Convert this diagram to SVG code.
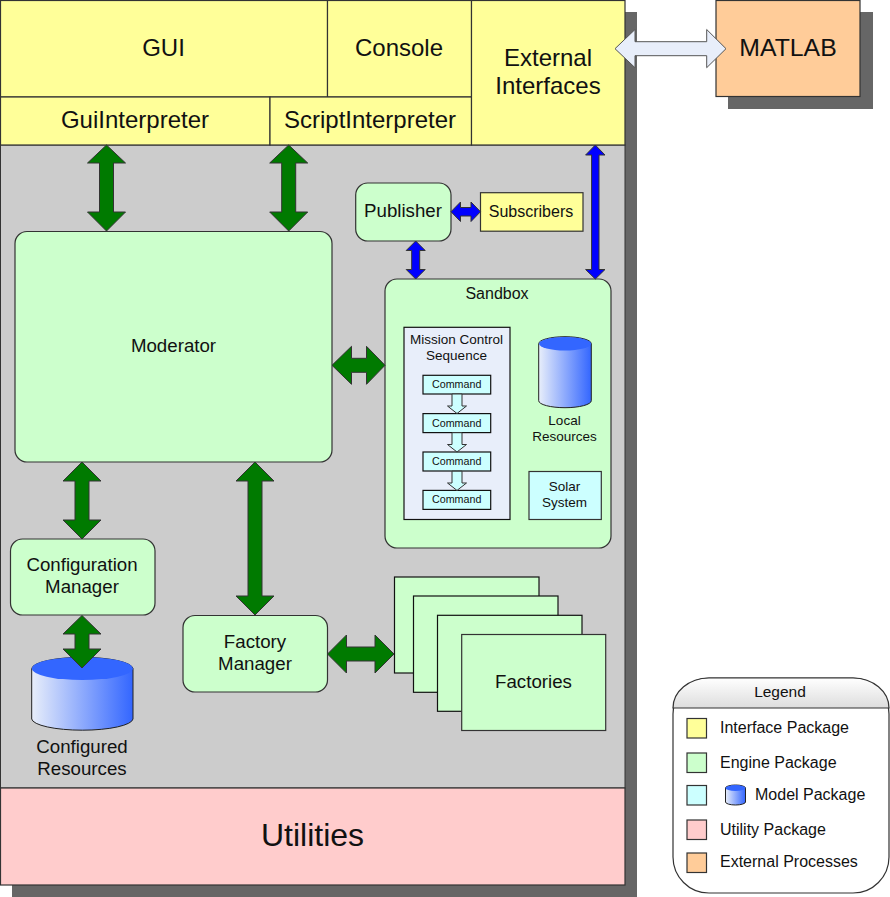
<svg xmlns="http://www.w3.org/2000/svg" width="890" height="897" viewBox="0 0 890 897">
<style>
text{font-family:"Liberation Sans",Arial,sans-serif;fill:#111;text-anchor:middle}
.box{stroke:#333;stroke-width:1.2}
.k{stroke:#111;stroke-width:1.2}
.y{fill:#ffff99}.g{fill:#ccffcc}.c{fill:#ccffff}.r{fill:#ffcccc}.o{fill:#ffcc99}
.sh{fill:#666}
.ga{fill:#007a00;stroke:#333;stroke-width:1}
.ba{fill:#0000ff;stroke:#333;stroke-width:1}
.wa{fill:#e8eefa;stroke:#555;stroke-width:1}
.ca{fill:#ccffff;stroke:#333;stroke-width:1}
.cyl{fill:url(#cg);stroke:#222;stroke-width:1}
.top{fill:#3366ff}
.l{text-anchor:start;font-size:16px}
.f24{font-size:24px}.f22{font-size:24px}.f18{font-size:18.7px}.f16{font-size:16px}.f13{font-size:13.5px}.f10{font-size:10.7px}
</style>
<defs>
<linearGradient id="cg" x1="0" x2="1" y1="0" y2="0"><stop offset="0" stop-color="#e8eefa"/><stop offset="1" stop-color="#3366ff"/></linearGradient>
<linearGradient id="lg" x1="0" x2="0" y1="0" y2="1"><stop offset="0" stop-color="#ffffff"/><stop offset="1" stop-color="#dddddd"/></linearGradient>
</defs>
<rect class="sh" x="12" y="12" width="625" height="885"/>
<rect class="sh" x="728" y="12" width="145" height="97"/>
<g id="engine-area"><rect x="0.5" y="145" width="624.5" height="643" fill="#cccccc" stroke="#333"/></g>
<g id="utilities"><rect class="box r" x="0.5" y="788" width="624.5" height="97"/><text x="312.5" y="846" font-size="32">Utilities</text></g>
<g id="gui"><rect class="box y" x="0.5" y="0.5" width="327" height="96.5"/><text class="f24" x="163.5" y="56">GUI</text></g>
<g id="console"><rect class="box y" x="327.5" y="0.5" width="144" height="96.5"/><text class="f22" x="399" y="55.500">Console</text></g>
<g id="gui-interpreter"><rect class="box y" x="0.5" y="97" width="269.500" height="48"/><text class="f22" x="135" y="128">GuiInterpreter</text></g>
<g id="script-interpreter"><rect class="box y" x="270" y="97" width="201.500" height="48"/><text class="f22" x="370" y="128">ScriptInterpreter</text></g>
<g id="external-interfaces"><rect class="box y" x="471.500" y="0.5" width="153.500" height="144.500"/><text class="f24" x="548" y="66">External</text><text class="f24" x="548" y="94">Interfaces</text></g>
<g id="matlab"><rect class="box o" x="716" y="0.500" width="144" height="96"/><text x="788" y="55.500" font-size="24.800">MATLAB</text></g>
<g id="moderator"><rect class="box g" x="15" y="231.500" width="317" height="230.500" rx="12"/><text class="f18" x="173.500" y="352">Moderator</text></g>
<g id="publisher"><rect class="box g" x="355.700" y="183" width="95.300" height="58" rx="12"/><text class="f18" x="403" y="217">Publisher</text></g>
<g id="subscribers"><rect class="box y" x="480.500" y="192.700" width="102.500" height="38.500"/><text class="f16" x="531" y="216.500">Subscribers</text></g>
<g id="sandbox"><rect class="box g" x="385" y="279" width="226" height="269" rx="12"/><text class="f16" x="497" y="298.500">Sandbox</text></g>
<g id="mission-control-sequence"><rect class="k" fill="#e8eefa" x="404" y="327.300" width="106" height="192.200"/><text class="f13" x="456.500" y="344">Mission Control</text><text class="f13" x="456.500" y="360">Sequence</text></g>
<g id="command-1"><rect class="k c" x="423" y="375.300" width="67.700" height="18.700"/><text class="f10" x="456.700" y="388">Command</text></g>
<g id="command-2"><rect class="k c" x="423" y="413.600" width="67.700" height="19"/><text class="f10" x="456.700" y="426.500">Command</text></g>
<g id="command-3"><rect class="k c" x="423" y="452" width="67.700" height="19"/><text class="f10" x="456.700" y="465">Command</text></g>
<g id="command-4"><rect class="k c" x="423" y="490.400" width="67.700" height="19"/><text class="f10" x="456.700" y="503">Command</text></g>
<g id="local-resources"><path class="cyl" d="M538.700 343.700A26.300 7 0 0 1 591.300 343.700V400.700A26.300 7 0 0 1 538.700 400.700Z"/><ellipse class="top" cx="565" cy="343.700" rx="26" ry="6.700"/><text class="f13" x="564.500" y="425">Local</text><text class="f13" x="564.500" y="441">Resources</text></g>
<g id="solar-system"><rect class="box c" x="529" y="471.500" width="72.300" height="48"/><text class="f13" x="564.500" y="491">Solar</text><text class="f13" x="564.500" y="507">System</text></g>
<g id="configuration-manager"><rect class="box g" x="10.500" y="539" width="144.500" height="76" rx="12"/><text class="f18" x="82" y="571">Configuration</text><text class="f18" x="82" y="593">Manager</text></g>
<g id="factory-manager"><rect class="box g" x="183" y="615.500" width="144.500" height="76.500" rx="12"/><text class="f18" x="255" y="648">Factory</text><text class="f18" x="255" y="670">Manager</text></g>
<g id="configured-resources"><path class="cyl" d="M31.700 668.500A50.700 11.700 0 0 1 133 668.500V719A50.700 11.700 0 0 1 31.700 719Z"/><ellipse class="top" cx="82.300" cy="668.500" rx="50.400" ry="11.500"/><text class="f18" x="82" y="753">Configured</text><text class="f18" x="82" y="775">Resources</text></g>
<g id="factories">
<rect class="k g" x="394.500" y="577" width="144.500" height="96"/>
<rect class="k g" x="413.500" y="596" width="144.500" height="96.300"/>
<rect class="k g" x="437.500" y="615.300" width="144.500" height="96"/>
<rect class="box g" x="461.700" y="634.500" width="144" height="96"/>
<text class="f18" x="533.500" y="688">Factories</text>
</g>
<g id="legend">
<rect x="673" y="678" width="216" height="215" rx="36" fill="#fff" stroke="#333" stroke-width="1.200"/>
<path d="M673 708A36 30 0 0 1 709 678H853A36 30 0 0 1 889 708Z" fill="url(#lg)" stroke="#333" stroke-width="1.200"/>
<text x="780" y="697" font-size="15.500">Legend</text>
<rect class="box y" x="687" y="718.500" width="19.500" height="19.500"/><text class="l" x="720" y="733">Interface Package</text>
<rect class="box g" x="687" y="753" width="19.500" height="19.500"/><text class="l" x="720" y="768">Engine Package</text>
<rect class="box c" x="687" y="785.500" width="19.500" height="19.500"/>
<path class="cyl" d="M725.500 788A10 3 0 0 1 745.500 788V802A10 3 0 0 1 725.500 802Z"/><ellipse class="top" cx="735.500" cy="788" rx="10" ry="3"/>
<text class="l" x="755" y="800">Model Package</text>
<rect class="box r" x="687" y="820" width="19.500" height="19.500"/><text class="l" x="720" y="835">Utility Package</text>
<rect class="box o" x="687" y="853" width="19.500" height="19.500"/><text class="l" x="720" y="867">External Processes</text>
</g>
<g id="connectors">
<polygon class="ga" points="106.500,145 125.500,163 113.500,163 113.500,212 125.500,212 106.500,231 87.500,212 99.500,212 99.500,163 87.500,163"/>
<polygon class="ga" points="288.700,145 307.700,163 295.700,163 295.700,212 307.700,212 288.700,231 269.700,212 281.700,212 281.700,163 269.700,163"/>
<polygon class="ga" points="82,462 101,481 89,481 89,520 101,520 82,539 63,520 75,520 75,481 63,481"/>
<polygon class="ga" points="255,462 274,481 262,481 262,596 274,596 255,615 236,596 248,596 248,481 236,481"/>
<polygon class="ga" points="82,615.500 101,634 89,634 89,649 101,649 82,668 63,649 75,649 75,634 63,634"/>
<polygon class="ga" points="332,365.300 351.500,346.300 351.500,358.300 366.500,358.300 366.500,346.300 385,365.300 366.500,384.300 366.500,372.300 351.500,372.300 351.500,384.300"/>
<polygon class="ga" points="327.500,654 346.500,635 346.500,647 375,647 375,635 394,654 375,673 375,661 346.500,661 346.500,673"/>
<polygon class="ba" points="451,211.700 460.500,202 460.500,207.500 471,207.500 471,202 480.500,211.700 471,221.500 471,216 460.500,216 460.500,221.500"/>
<polygon class="ba" points="415.700,241 425.200,250.500 419.700,250.500 419.700,269.500 425.200,269.500 415.700,279 406.200,269.500 411.700,269.500 411.700,250.500 406.200,250.500"/>
<polygon class="ba" points="595.300,145 605,155 599,155 599,269.500 605,269.500 595.300,279 585.600,269.500 591.600,269.500 591.600,155 585.600,155"/>
<polygon class="wa" points="615,48.700 635,29.500 635,41.700 706.700,41.700 706.700,29.500 726,48.700 706.700,67.700 706.700,55.700 635,55.700 635,67.700"/>
<polygon class="ca" points="452,394 462,394 462,406 466.500,406 457,413.500 447.500,406 452,406"/>
<polygon class="ca" points="452,432.700 462,432.700 462,444.500 466.500,444.500 457,452 447.500,444.500 452,444.500"/>
<polygon class="ca" points="452,471.200 462,471.200 462,483 466.500,483 457,490.400 447.500,483 452,483"/>
</g>
</svg>
